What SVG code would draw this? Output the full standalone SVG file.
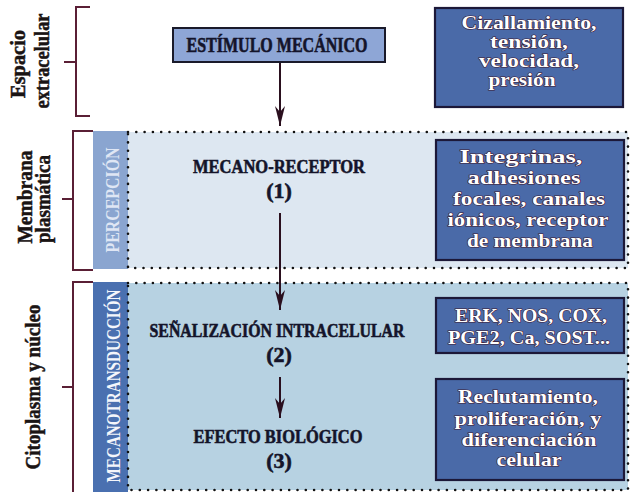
<svg xmlns="http://www.w3.org/2000/svg" width="633" height="492" viewBox="0 0 633 492">
<defs>
<marker id="ah" markerUnits="userSpaceOnUse" markerWidth="20" markerHeight="11" refX="20" refY="5.5" orient="auto" viewBox="0 0 20 11">
<path d="M0,0.5 L20,5.5 L0,10.5 L6,5.5 Z" fill="#2a0f1e"/>
</marker>
</defs>
<style>
.br{fill:none;stroke:#5a1f35;stroke-width:2}
.dot{fill:none;stroke:#111;stroke-width:2.6;stroke-linecap:round;stroke-dasharray:0 8.3}
.lbl{font-family:"Liberation Serif","DejaVu Serif",serif;font-weight:bold;fill:#1a1414;text-anchor:middle;stroke:#1a1414;stroke-width:0.5}
.main{font-family:"Liberation Serif","DejaVu Serif",serif;font-weight:bold;fill:#14142a;text-anchor:middle;stroke:#14142a;stroke-width:0.6}
.box{fill:#4a6aa8;stroke:#1c1838;stroke-width:2.2}
.bt{font-family:"Liberation Serif","DejaVu Serif",serif;font-weight:bold;font-size:19.5px;fill:#fff;text-anchor:middle;stroke:#3a1830;stroke-width:1.2;paint-order:stroke}
.st{font-family:"Liberation Serif","DejaVu Serif",serif;font-weight:bold;font-size:19px;text-anchor:middle}
.con{stroke:#2a0f1e;stroke-width:2;fill:none}
</style>

<g id="bands">
<rect x="128" y="132" width="500" height="136" fill="#dde7f1"/>
<rect x="93" y="131" width="35" height="138" fill="#8aa5d0"/>
<rect x="128" y="283" width="500" height="207" fill="#b7d2e2"/>
<rect x="93" y="282" width="35" height="210" fill="#4a70b0"/>
<path class="dot" d="M128,132 H628 V268 H128 Z"/>
<path class="dot" d="M128,283 H628 V490 H128 Z"/>
<text class="st" fill="#dfe6f4" transform="translate(119,200) rotate(-90)" textLength="105" lengthAdjust="spacingAndGlyphs">PERCEPCIÓN</text>
<text class="st" fill="#f4f6fb" transform="translate(120,386) rotate(-90)" textLength="193" lengthAdjust="spacingAndGlyphs">MECANOTRANSDUCCIÓN</text>
</g>

<g id="brackets">
<path class="br" d="M90,7 H76 V116 H90 M76,62 H64"/>
<path class="br" d="M93,131 H73 V270 H93 M73,199 H62"/>
<path class="br" d="M93,282 H73 V495 M73,387 H62"/>
<text class="lbl" font-size="21" transform="translate(25,64) rotate(-90)" textLength="68" lengthAdjust="spacingAndGlyphs">Espacio</text>
<text class="lbl" font-size="21" transform="translate(49,61) rotate(-90)" textLength="95" lengthAdjust="spacingAndGlyphs">extracelular</text>
<text class="lbl" font-size="21" transform="translate(32,197) rotate(-90)" textLength="93" lengthAdjust="spacingAndGlyphs">Membrana</text>
<text class="lbl" font-size="21" transform="translate(50,199) rotate(-90)" textLength="88" lengthAdjust="spacingAndGlyphs">plasmática</text>
<text class="lbl" font-size="21" transform="translate(40,387) rotate(-90)" textLength="165" lengthAdjust="spacingAndGlyphs">Citoplasma y núcleo</text>
</g>

<g id="connectors">
<line class="con" x1="280" y1="62" x2="280" y2="126" marker-end="url(#ah)"/>
<line class="con" x1="280" y1="213" x2="280" y2="310" marker-end="url(#ah)"/>
<line class="con" x1="280" y1="377" x2="280" y2="418" marker-end="url(#ah)"/>
</g>

<g id="estimulo">
<rect x="173" y="28" width="212" height="34" fill="#8ea6d6" stroke="#1a1a2a" stroke-width="2"/>
<text class="main" x="277" y="52" font-size="21" textLength="181" lengthAdjust="spacingAndGlyphs">ESTÍMULO MECÁNICO</text>
</g>

<g id="receptor">
<text class="main" x="279" y="173" font-size="19" textLength="172" lengthAdjust="spacingAndGlyphs">MECANO-RECEPTOR</text>
<text class="main" x="279" y="198" font-size="22">(1)</text>
</g>

<g id="senalizacion">
<text class="main" x="277" y="337" font-size="19" textLength="255" lengthAdjust="spacingAndGlyphs">SEÑALIZACIÓN INTRACELULAR</text>
<text class="main" x="279" y="362" font-size="22">(2)</text>
</g>

<g id="efecto">
<text class="main" x="278" y="443" font-size="19" textLength="169" lengthAdjust="spacingAndGlyphs">EFECTO BIOLÓGICO</text>
<text class="main" x="279" y="468" font-size="22">(3)</text>
</g>

<g id="box-fuerzas">
<rect class="box" x="435" y="8" width="188" height="99"/>
<text class="bt" x="529" y="29" textLength="135" lengthAdjust="spacingAndGlyphs">Cizallamiento,</text>
<text class="bt" x="529" y="48" textLength="78" lengthAdjust="spacingAndGlyphs">tensión,</text>
<text class="bt" x="529" y="67" textLength="100" lengthAdjust="spacingAndGlyphs">velocidad,</text>
<text class="bt" x="522" y="86" textLength="67" lengthAdjust="spacingAndGlyphs">presión</text>
</g>

<g id="box-receptores">
<rect class="box" x="436" y="140" width="188" height="120"/>
<text class="bt" x="521" y="163" textLength="123" lengthAdjust="spacingAndGlyphs">Integrinas,</text>
<text class="bt" x="524" y="184" textLength="113" lengthAdjust="spacingAndGlyphs">adhesiones</text>
<text class="bt" x="529" y="205" textLength="152" lengthAdjust="spacingAndGlyphs">focales, canales</text>
<text class="bt" x="528" y="226" textLength="161" lengthAdjust="spacingAndGlyphs">iónicos, receptor</text>
<text class="bt" x="530" y="247" textLength="126" lengthAdjust="spacingAndGlyphs">de membrana</text>
</g>

<g id="box-senales">
<rect class="box" x="436" y="298" width="188" height="55"/>
<text class="bt" x="531" y="322" textLength="152" lengthAdjust="spacingAndGlyphs">ERK, NOS, COX,</text>
<text class="bt" x="529" y="344" textLength="162" lengthAdjust="spacingAndGlyphs">PGE2, Ca, SOST...</text>
</g>

<g id="box-efectos">
<rect class="box" x="436" y="379" width="188" height="101"/>
<text class="bt" x="528" y="403" textLength="140" lengthAdjust="spacingAndGlyphs">Reclutamiento,</text>
<text class="bt" x="528" y="425" textLength="147" lengthAdjust="spacingAndGlyphs">proliferación, y</text>
<text class="bt" x="529" y="446" textLength="135" lengthAdjust="spacingAndGlyphs">diferenciación</text>
<text class="bt" x="529" y="466" textLength="65" lengthAdjust="spacingAndGlyphs">celular</text>
</g>
</svg>
